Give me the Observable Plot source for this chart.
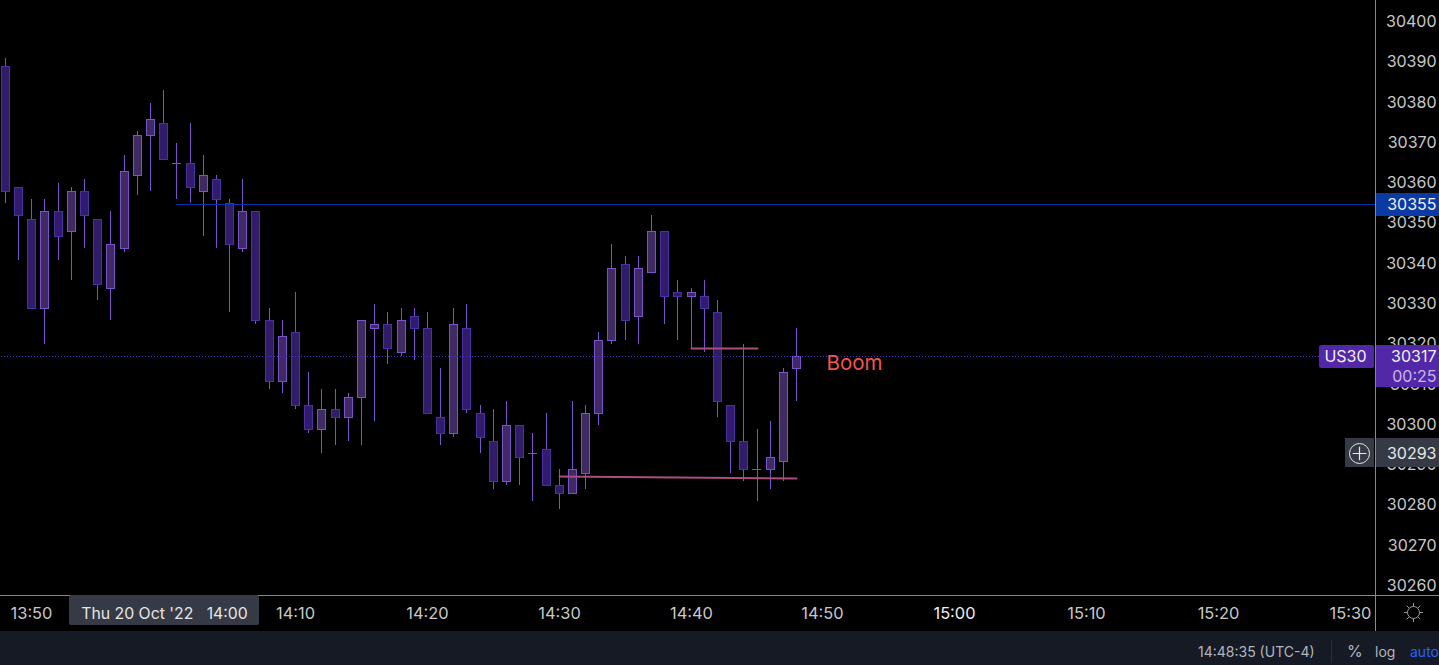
<!DOCTYPE html>
<html><head><meta charset="utf-8">
<script src="https://cdn.jsdelivr.net/npm/d3@7"></script>
<script src="https://cdn.jsdelivr.net/npm/@observablehq/plot@0.6"></script>
<style>
html,body{margin:0;padding:0;background:#000;width:1439px;height:665px;overflow:hidden;font-family:Inter,sans-serif}
#bar{position:relative;width:1439px;height:34px;background:#161a25;color:#b2b5be;font-size:14px}
#bar span{position:absolute;top:0;line-height:41px;white-space:nowrap}
#bar i{position:absolute;left:1331px;top:9px;width:1px;height:23px;background:#2a2e39}
svg{display:block}
</style></head><body>
<div id="chart"></div>
<div id="bar"><span style="left:1198px">14:48:35 (UTC-4)</span><i></i><span style="left:1347px;font-size:16px">%</span><span style="left:1375px">log</span><span style="left:1410px;color:#2962ff">auto</span></div>
<script>
const opens=[30389,30359,30351,30329,30353,30348,30358,30351,30334,30344,30362,30372,30375,30365,30365,30358,30361,30355,30344,30353,
30326,30311,30323,30305,30299,30304,30302,30307,30324,30325,30318,30327,30324,30302,30298,30324,30303,30296,30286,30300,30293,30294,
30285,30283,30288,30303,30321,30340,30327,30338,30348,30333,30332,30332,30328,30305,30296,30289,30289,30291,30314];
const closes=[30358,30352,30329,30353,30347,30358,30352,30335,30345,30363,30372,30376,30366,30365,30359,30362,30356,30345,30353,30326,
30311,30322,30305,30299,30304,30302,30307,30326,30325,30319,30326,30324,30303,30298,30325,30304,30297,30286,30300,30292,30293,30285,
30283,30289,30303,30321,30339,30326,30339,30348,30332,30332,30333,30329,30306,30296,30289,30289,30292,30313,30317];
const highs=[30391,30359,30356,30356,30360,30359,30361,30351,30353,30367,30373,30380,30383,30370,30375,30367,30362,30356,30361,30353,
30329,30326,30333,30313,30309,30309,30308,30326,30330,30328,30329,30329,30328,30314,30329,30330,30305,30304,30306,30300,30298,30303,
30289,30306,30305,30323,30345,30342,30342,30352,30348,30336,30334,30336,30331,30305,30320,30299,30301,30314,30324];
const lows=[30355,30341,30329,30320,30341,30336,30344,30331,30326,30343,30357,30358,30366,30356,30355,30347,30344,30328,30343,30325,
30309,30308,30304,30298,30293,30295,30296,30295,30301,30315,30317,30316,30303,30295,30297,30303,30293,30284,30285,30285,30281,30285,
30279,30283,30284,30300,30320,30321,30320,30338,30325,30321,30319,30318,30302,30288,30286,30281,30284,30286,30306];
const priceTicks=[30400,30390,30380,30370,30360,30350,30340,30330,30320,30310,30300,30290,30280,30270,30260];
const timeTicks=[[2,"13:50"],[22,"14:10"],[32,"14:20"],[42,"14:30"],[52,"14:40"],[62,"14:50"],[72,"15:00"],[82,"15:10"],[92,"15:20"],[102,"15:30"]];
const t=m=>new Date(Date.UTC(2022,9,20,13,48)+m*60000);
const candles=opens.map((o,i)=>({m:i,o,c:closes[i],h:highs[i],l:lows[i]}));
const bodies=candles.filter(d=>d.o!==d.c), dojis=candles.filter(d=>d.o===d.c);
const levelBlue=30354.8, levelLast=30317, levelCross=30293;
const paneEnd=103.9, right=108.8, axisRow=30253.4, sepRow=30257.8, tagLeft=99.66;
const gridC="#8a8a8a", wick="#7a52cc", iconC="#9a9a9a";
const yTickX=108.53, sunX=106.78, sunY=30253.6;
const chart=Plot.plot({
  width:1439,height:631,margin:0,
  style:{background:"#000",fontFamily:"Inter,sans-serif",overflow:"hidden"},
  x:{type:"utc",domain:[t(0),t(60)],range:[4.9,796.1],axis:null,round:true},
  y:{domain:[30400,30260],range:[22,586],axis:null,round:true},
  marks:[
    Plot.ruleX(candles,{x:d=>t(d.m),y1:"l",y2:"h",stroke:wick,strokeWidth:1}),
    Plot.rect(bodies,{x1:d=>t(d.m),x2:d=>t(d.m),insetLeft:-4,insetRight:-4,y1:"o",y2:"c",dx:0.5,dy:0.5,
      fill:d=>d.c>d.o?"#3f2a63":"#311b6b",stroke:d=>d.c>d.o?"#7a52cc":"#4b2fa5",strokeWidth:1}),
    Plot.ruleY(dojis,{y:"o",x1:d=>t(d.m-0.33),x2:d=>t(d.m+0.36),stroke:wick,strokeWidth:1}),
    Plot.ruleY([levelBlue],{x1:t(12.98),x2:t(paneEnd),stroke:"#0c2fa8",strokeWidth:1}),
    Plot.ruleY([levelLast],{x1:t(-0.5),x2:t(tagLeft),stroke:"#4a2fc8",strokeWidth:1,strokeDasharray:"1 2"}),
    Plot.line([{m:42,p:30287.3},{m:60,p:30286.8}],{x:d=>t(d.m),y:"p",stroke:"#a94f7a",strokeWidth:2}),
    Plot.line([{m:52,p:30319.2},{m:57,p:30319.2}],{x:d=>t(d.m),y:"p",stroke:"#a94f7a",strokeWidth:2}),
    Plot.text(["Boom"],{x:t(62.28),y:30315.3,text:d=>d,textAnchor:"start",fontSize:20.5,fill:"#f2554a"}),
    Plot.ruleX([t(paneEnd)],{stroke:gridC,strokeWidth:1}),
    Plot.ruleY([sepRow],{stroke:gridC,strokeWidth:1}),
    Plot.text(priceTicks,{x:t(yTickX),y:d=>d,dy:-0.4,text:d=>String(d),textAnchor:"end",fontSize:16,fill:"#c8c8c8"}),
    Plot.text(timeTicks,{x:d=>t(d[0]),y:axisRow,text:d=>d[1],fontSize:16.4,fill:d=>d[1]==="15:00"?"#eeeeee":"#c8c8c8",fontWeight:d=>d[1]==="15:00"?700:400}),
    Plot.rect([0],{x1:t(4.86),x2:t(19.27),y1:sepRow,y2:30250.4,fill:"#363a45",rx:2}),
    Plot.text(["Thu 20 Oct '22   14:00"],{x:t(12.05),y:axisRow,text:d=>d,fontSize:15.8,fill:"#e6e6e6"}),
    Plot.dot([0],{x:t(sunX),y:sunY,symbol:"plus",r:6.2,stroke:iconC,strokeWidth:1,fill:"none"}),
    Plot.dot([0],{x:t(sunX),y:sunY,symbol:"times",r:6.2,stroke:iconC,strokeWidth:1,fill:"none"}),
    Plot.dot([0],{x:t(sunX),y:sunY,r:6,stroke:iconC,strokeWidth:1,fill:"#000"}),
    Plot.rect([0],{x1:t(paneEnd+0.04),x2:t(right),y1:30357.6,y2:30351.9,fill:"#0c3aa4"}),
    Plot.text([levelBlue],{x:t(yTickX),y:d=>d,text:()=>"30355",textAnchor:"end",fontSize:16,fill:"#f0f0f0"}),
    Plot.rect([0],{x1:t(paneEnd+0.04),x2:t(right),y1:30319.85,y2:30309.43,fill:"#5227a8"}),
    Plot.text([levelLast],{x:t(yTickX),y:d=>d,dy:0.5,text:d=>String(d),textAnchor:"end",fontSize:16,fill:"#f0f0f0"}),
    Plot.text(["00:25"],{x:t(yTickX),y:30312.2,text:d=>d,textAnchor:"end",fontSize:16,fill:"#c9b8e8"}),
    Plot.rect([0],{x1:t(99.66),x2:t(103.83),y1:30319.85,y2:30314.1,fill:"#5227a8",rx:2}),
    Plot.text(["US30"],{x:t(101.63),y:levelLast,dy:0.5,text:d=>d,fontSize:16,fill:"#f0f0f0"}),
    Plot.rect([0],{x1:t(paneEnd+0.04),x2:t(right),y1:30296.7,y2:30289.5,fill:"#363a45"}),
    Plot.text([levelCross],{x:t(yTickX),y:d=>d,text:d=>String(d),textAnchor:"end",fontSize:16,fill:"#e6e6e6"}),
    Plot.rect([0],{x1:t(101.6),x2:t(103.83),y1:30296.7,y2:30289.5,fill:"#363a45"}),
    Plot.dot([levelCross],{x:t(102.71),y:d=>d,r:10,stroke:"#e8e8e8",strokeWidth:1,fill:"none"}),
    Plot.dot([levelCross],{x:t(102.71),y:d=>d,symbol:"plus",r:4.5,stroke:"#e8e8e8",strokeWidth:1.2,fill:"none"})
  ]
});
document.getElementById("chart").appendChild(chart);
</script>
</body></html>
